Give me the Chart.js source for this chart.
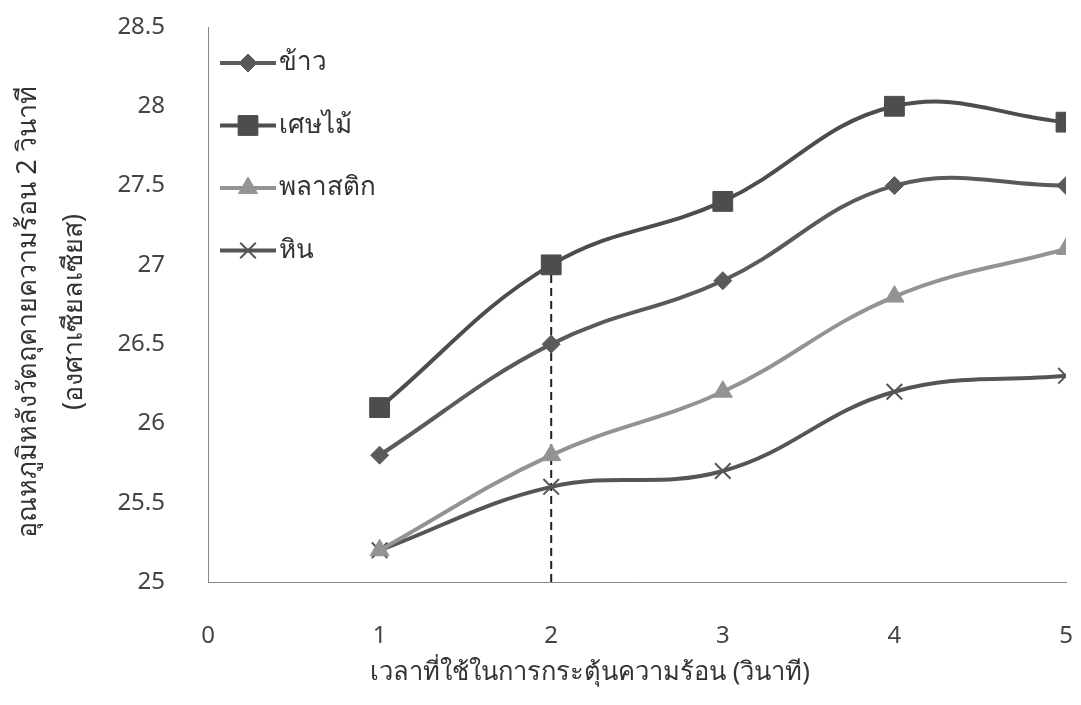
<!DOCTYPE html>
<html>
<head>
<meta charset="utf-8">
<script src="https://cdn.jsdelivr.net/npm/chart.js@4/dist/chart.umd.min.js"></script>
<style>
  body { margin: 0; background: #fff; }
  #wrap { width: 1081px; height: 705px; position: relative; }
</style>
</head>
<body>
<div id="wrap"><canvas id="myChart"></canvas></div>
<script>
// data
const times = [1, 2, 3, 4, 5];
const rice = [25.8, 26.5, 26.9, 27.5, 27.5];
const wood = [26.1, 27.0, 27.4, 28.0, 27.9];
const plastic = [25.2, 25.8, 26.2, 26.8, 27.1];
const stone = [25.2, 25.6, 25.7, 26.2, 26.3];
const seriesNames = ["ข้าว", "เศษไม้", "พลาสติก", "หิน"];
const guideX = [2, 2];
const guideY = [25, 27];
const yTitle = ["อุณหภูมิหลังวัตถุคายความร้อน 2 วินาที", "(องศาเซียลเซียส)"];
const xTitle = "เวลาที่ใช้ในการกระตุ้นความร้อน (วินาที)";

const fontFamily = "'Noto Sans', 'DejaVu Sans', sans-serif";

const pts = (xs, ys) => xs.map((x, i) => ({x: x, y: ys[i]}));

function series(label, values, color, style, radius, bw) {
  return {
    label: label,
    data: pts(times, values),
    borderColor: color,
    backgroundColor: color,
    borderWidth: 4,
    tension: 0.4,
    pointStyle: style,
    pointRadius: radius,
    pointHoverRadius: radius,
    pointBackgroundColor: color,
    pointBorderColor: color,
    pointBorderWidth: bw
  };
}

const ctx = document.getElementById("myChart");

// legend drawn inside the plot, line + marker like the original
const sideLegend = {
  id: "sideLegend",
  afterDraw(chart) {
    const c = chart.ctx;
    const left = chart.chartArea.left;
    const list = chart.data.datasets.filter(d => !d.noLegend);
    list.forEach((ds, i) => {
      const y = 63 + i * 62.5;
      c.save();
      c.strokeStyle = ds.borderColor;
      c.lineWidth = ds.borderWidth;
      c.beginPath();
      c.moveTo(left + 12, y);
      c.lineTo(left + 68, y);
      c.stroke();
      c.fillStyle = ds.pointBackgroundColor;
      c.strokeStyle = ds.pointBorderColor;
      c.lineWidth = ds.pointBorderWidth;
      Chart.helpers.drawPoint(c, {
        pointStyle: ds.pointStyle,
        radius: ds.pointRadius,
        rotation: 0,
        borderWidth: ds.pointBorderWidth
      }, left + 40, y);
      c.fillStyle = "#333";
      c.font = "26px " + fontFamily;
      c.textBaseline = "middle";
      c.textAlign = "left";
      c.fillText(ds.label, left + 71, y);
      c.restore();
    });
  }
};

// axis titles: two-line rotated y title, x title placed as in the original
const axisTitles = {
  id: "axisTitles",
  afterDraw(chart) {
    const c = chart.ctx;
    c.save();
    c.fillStyle = "#333";
    c.textBaseline = "middle";

    c.font = "25.5px " + fontFamily;
    c.textAlign = "left";
    c.fillText(xTitle, 370, 673);

    c.translate(0, 312);
    c.rotate(-Math.PI / 2);
    c.font = "27px " + fontFamily;
    c.textAlign = "center";
    c.fillText(yTitle[0], 0, 28);
    c.fillText(yTitle[1], 0, 74);
    c.restore();
  }
};

const plainNum = v => String(Math.round(v * 10) / 10);

new Chart(ctx, {
  type: "line",
  data: {
    datasets: [
      series(seriesNames[0], rice, "#5a5a5a", "rectRot", 9, 1),
      series(seriesNames[1], wood, "#4d4d4d", "rect", 14, 1),
      series(seriesNames[2], plastic, "#939393", "triangle", 11, 1),
      series(seriesNames[3], stone, "#555555", "crossRot", 11, 2),
      {
        label: "guide",
        noLegend: true,
        data: pts(guideX, guideY),
        borderColor: "#222",
        borderWidth: 2,
        borderDash: [8, 5],
        pointRadius: 0,
        tension: 0
      }
    ]
  },
  options: {
    responsive: true,
    maintainAspectRatio: false,
    animation: false,
    layout: { padding: { top: 27, right: 13, left: 0, bottom: 0 } },
    plugins: {
      legend: { display: false },
      tooltip: { enabled: false }
    },
    scales: {
      x: {
        type: "linear",
        min: 0,
        max: 5,
        ticks: { stepSize: 1, padding: 0, color: "#444", callback: plainNum, font: { family: fontFamily, size: 24 } },
        grid: { display: false, drawTicks: true, tickLength: 40 },
        border: { display: true, color: "#888", width: 1 },
        afterFit(scale) { scale.height = 123; }
      },
      y: {
        min: 25,
        max: 28.5,
        ticks: { stepSize: 0.5, padding: 0, color: "#444", callback: plainNum, font: { family: fontFamily, size: 24 } },
        grid: { display: false, drawTicks: true, tickLength: 43 },
        border: { display: true, color: "#888", width: 1 },
        afterFit(scale) { scale.width = 208; }
      }
    }
  },
  plugins: [sideLegend, axisTitles]
});
</script>
</body>
</html>
